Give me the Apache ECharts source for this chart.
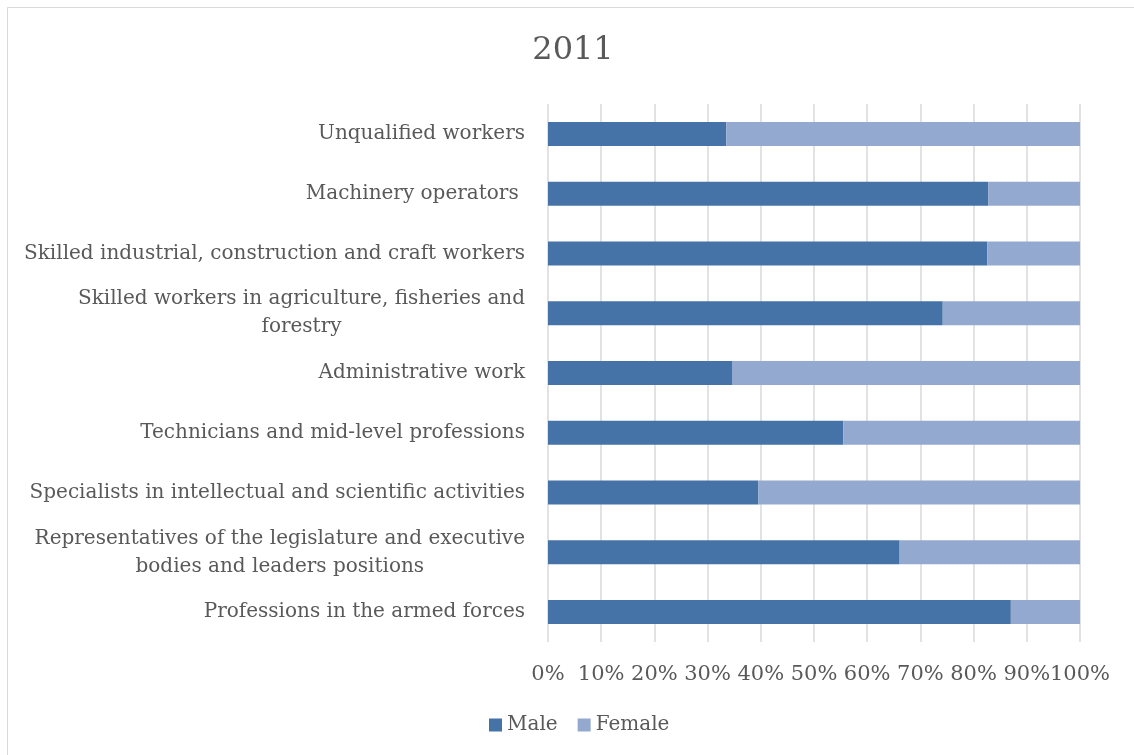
<!DOCTYPE html>
<html><head><meta charset="utf-8">
<script src="https://cdn.jsdelivr.net/npm/echarts@6/dist/echarts.min.js"></script>
<style>html,body{margin:0;padding:0;background:#fff}#c{width:1134px;height:755px}</style>
</head><body><div id="c"></div>
<script>
const categories = [
  "Professions in the armed forces",
  "Representatives of the legislature and executive\nbodies and leaders positions",
  "Specialists in intellectual and scientific activities",
  "Technicians and mid-level professions",
  "Administrative work",
  "Skilled workers in agriculture, fisheries and\nforestry",
  "Skilled industrial, construction and craft workers",
  "Machinery operators ",
  "Unqualified workers"
];
const male = [87.0, 66.1, 39.5, 55.5, 34.7, 74.2, 82.6, 82.8, 33.5];
const female = [13.0, 33.9, 60.5, 44.5, 65.3, 25.8, 17.4, 17.2, 66.5];
const seriesNames = ["Male", "Female"];
const title = "2011";

const FONT = "DejaVu Serif";
const TXT = "#595959";
const chart = echarts.init(document.getElementById('c'));
chart.setOption({
  animation: false,
  title: { text: title, left: 568, textAlign: 'center', top: 30, textStyle: { fontFamily: FONT, fontSize: 32, fontWeight: 'normal', color: TXT } },
  graphic: [{ type: 'rect', shape: { x: 7.5, y: 7.5, width: 1200, height: 1000 }, style: { fill: null, stroke: '#d9d9d9', lineWidth: 1 }, silent: true }],
  legend: {
    bottom: 15, left: 484, icon: 'rect', itemWidth: 13, itemHeight: 13, itemGap: 20,
    textStyle: { fontFamily: FONT, fontSize: 20, color: TXT },
    data: seriesNames
  },
  grid: { left: 548, right: 54, top: 104, bottom: 113, containLabel: false },
  xAxis: {
    type: 'value', min: 0, max: 100, interval: 10,
    axisLine: { show: false }, axisTick: { show: false },
    splitLine: { show: true, lineStyle: { color: '#d9d9d9', width: 1.5 } },
    axisLabel: { formatter: '{value}%', margin: 22, fontFamily: FONT, fontSize: 21, color: TXT, showMaxLabel: true, showMinLabel: true, hideOverlap: false }
  },
  yAxis: {
    type: 'category', data: categories,
    axisLine: { show: false }, axisTick: { show: false },
    axisLabel: {
      margin: 23, fontFamily: FONT, fontSize: 20, color: TXT, lineHeight: 28,
      formatter: function (v) {
        if (v.indexOf('\n') < 0) return v;
        return v.split('\n').map(function (l) { return '{c|' + l + '}'; }).join('\n');
      },
      rich: { c: { align: 'center', fontFamily: FONT, fontSize: 20, color: TXT, lineHeight: 28 } }
    }
  },
  series: [
    { name: seriesNames[0], type: 'bar', stack: 's', data: male, barWidth: 24, itemStyle: { color: '#4673a7' } },
    { name: seriesNames[1], type: 'bar', stack: 's', data: female, barWidth: 24, itemStyle: { color: '#94a9cf' } }
  ]
});
</script></body></html>
